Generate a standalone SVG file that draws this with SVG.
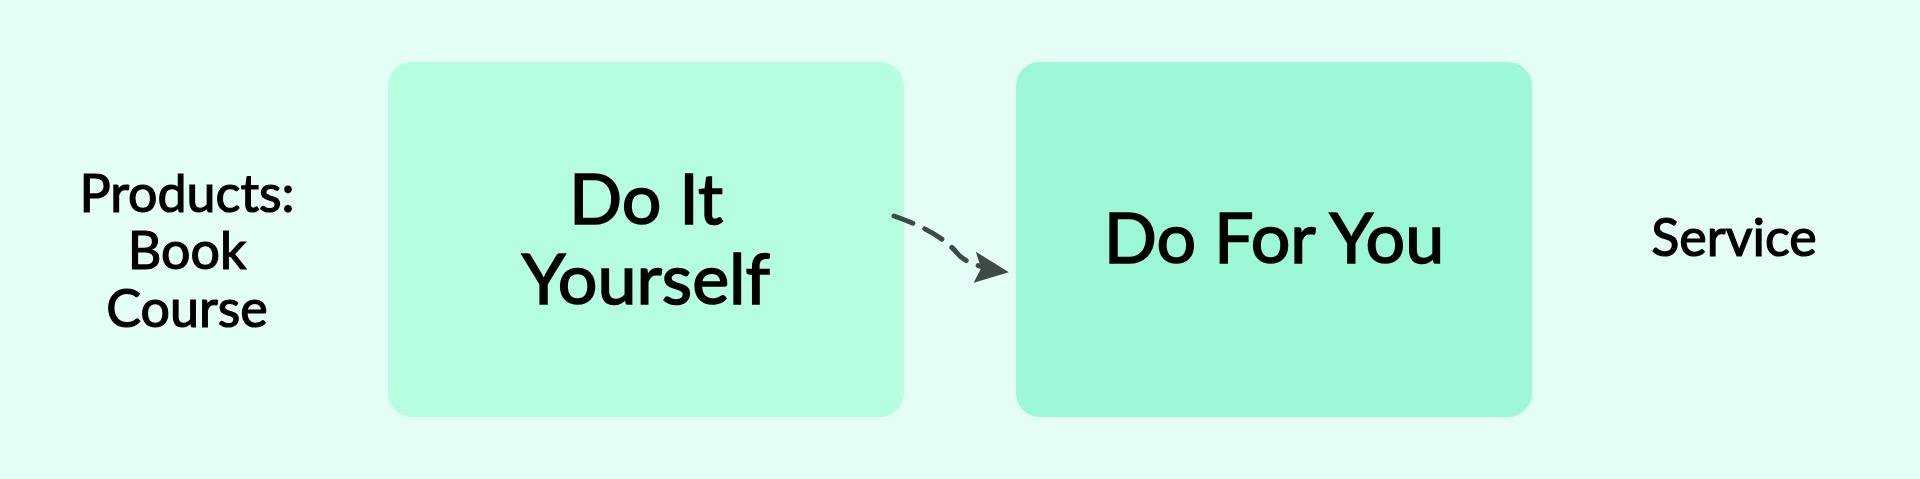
<svg xmlns="http://www.w3.org/2000/svg" width="1920" height="479" viewBox="0 0 1920 479">
<style>
.t{font-family:Lato,"Noto Sans","Liberation Sans",sans-serif;fill:#000;stroke:#000;text-anchor:middle;font-weight:400}
.big{font-size:70px;stroke-width:1.6px}
.side{font-size:52px;stroke-width:1.2px}
.edge{fill:none;stroke:#3d4a45;stroke-width:5;stroke-linecap:round;stroke-dasharray:20 13}
</style>
<defs>
<marker id="ah" viewBox="0 0 40 34" refX="36" refY="17" markerWidth="40" markerHeight="34" markerUnits="userSpaceOnUse" orient="auto">
<path d="M3,1 L38,18 L4,32 L10,17 Z" fill="#3d4a45"/>
</marker>
</defs>
<rect width="1920" height="479" fill="#e4fdf5"/>
<g id="products">
<text class="t side" x="187" y="212">Products:</text>
<text class="t side" x="187" y="269">Book</text>
<text class="t side" x="187" y="327">Course</text>
</g>
<g id="diy">
<rect x="388" y="62" width="516" height="355" rx="24" fill="#b6fee2"/>
<text class="t big" x="646" y="224">Do It</text>
<text class="t big" x="646" y="304">Yourself</text>
</g>
<g id="dfy">
<rect x="1016" y="62" width="516" height="355" rx="24" fill="#9cf8d6"/>
<text class="t big" x="1274" y="263">Do For You</text>
</g>
<g id="service">
<text class="t side" x="1734" y="256">Service</text>
</g>
<g id="connectors">
<path class="edge" d="M894,216 Q940,232 957,253 Q968,267 1007,271" marker-end="url(#ah)"/>
</g>
</svg>
